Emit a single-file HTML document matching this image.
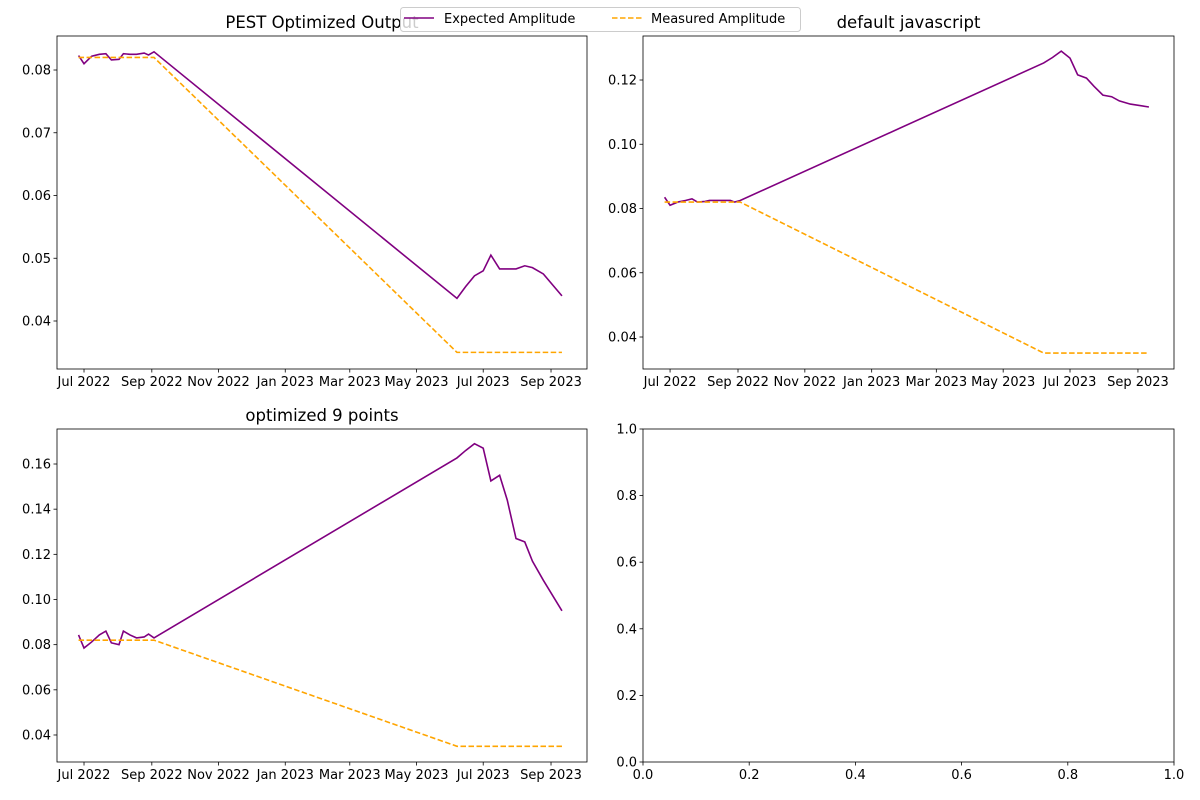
<!DOCTYPE html>
<html><head><meta charset="utf-8"><style>
body{margin:0;background:#fff;}
svg{display:block;font-family:"DejaVu Sans","Liberation Sans",sans-serif;}
</style></head><body>
<svg id="fig" width="1200" height="800" viewBox="0 0 1200 800"></svg>
<script>
// dates (shared by all series)
const dates = ["2022-06-26","2022-07-01","2022-07-08","2022-07-15","2022-07-21","2022-07-26","2022-08-02","2022-08-06","2022-08-12","2022-08-18","2022-08-25","2022-08-29","2022-09-03",
"2023-06-07","2023-06-15","2023-06-23","2023-07-01","2023-07-08","2023-07-16","2023-07-23","2023-07-31","2023-08-08","2023-08-15","2023-08-25","2023-09-11"];
const measured = [0.082,0.082,0.082,0.082,0.082,0.082,0.082,0.082,0.082,0.082,0.082,0.082,0.082,
0.035,0.035,0.035,0.035,0.035,0.035,0.035,0.035,0.035,0.035,0.035,0.035];
const expectedPest = [0.0823,0.081,0.0822,0.0825,0.0826,0.0816,0.0817,0.0826,0.0825,0.0825,0.0827,0.0824,0.0829,
0.0436,0.0455,0.0472,0.048,0.0505,0.0483,0.0483,0.0483,0.0488,0.0485,0.0475,0.044];
const expectedDefault = [0.0835,0.081,0.082,0.0825,0.083,0.082,0.0822,0.0825,0.0825,0.0825,0.0825,0.082,0.0825,
0.1253,0.127,0.129,0.1268,0.1216,0.1206,0.118,0.1153,0.1148,0.1135,0.1125,0.1116];
const expectedNine = [0.0843,0.0785,0.0812,0.0843,0.086,0.0808,0.080,0.086,0.0843,0.083,0.0834,0.0847,0.083,
0.1627,0.166,0.169,0.167,0.1525,0.155,0.144,0.127,0.1255,0.117,0.1085,0.095];
const dateTicks = ["2022-07-01","2022-09-01","2022-11-01","2023-01-01","2023-03-01","2023-05-01","2023-07-01","2023-09-01"];
const dateTickLabels = ["Jul 2022","Sep 2022","Nov 2022","Jan 2023","Mar 2023","May 2023","Jul 2023","Sep 2023"];
const yTicks1 = [0.04,0.05,0.06,0.07,0.08];
const yTicks2 = [0.04,0.06,0.08,0.10,0.12];
const yTicks3 = [0.04,0.06,0.08,0.10,0.12,0.14,0.16];
const unitTicks = [0,0.2,0.4,0.6,0.8,1.0];

const NS="http://www.w3.org/2000/svg";
const svg=document.getElementById('fig');
function mk(tag,attrs,parent){const e=document.createElementNS(NS,tag);for(const k in attrs)e.setAttribute(k,attrs[k]);(parent||svg).appendChild(e);return e;}
const T0=Date.UTC(2022,6,1);
function dayOf(s){const p=s.split('-');return (Date.UTC(+p[0],+p[1]-1,+p[2])-T0)/86400000;}

function panel(name,L,R,Tp,B,xmin,xmax,ymin,ymax,title,isDate,yt,yfmt,series){
  const g=mk('g',{});
  
  
  const sx=v=>L+(v-xmin)/(xmax-xmin)*(R-L);
  const sy=v=>B-(v-ymin)/(ymax-ymin)*(B-Tp);
  series.forEach(s=>{
    const pts=s.vals.map((v,i)=>sx(dayOf(dates[i])).toFixed(2)+','+sy(v).toFixed(2)).join(' ');
    const pl=mk('polyline',{points:pts,fill:'none',stroke:s.color,'stroke-width':1.6,'stroke-dasharray':s.dash||'none'},g);
    
    
  });
  const fr=mk('rect',{x:L,y:Tp,width:R-L,height:B-Tp,fill:'none',stroke:'#000','stroke-width':0.8},g);
  
  
  const xt=isDate?dateTicks.map(dayOf):unitTicks;
  const xl=isDate?dateTickLabels:unitTicks.map(v=>v.toFixed(1));
  xt.forEach((v,i)=>{const x=sx(v);mk('line',{x1:x,x2:x,y1:B,y2:B+3.5,stroke:'#000','stroke-width':0.8},g);
    const t=mk('text',{x:x,y:B+17,'text-anchor':'middle','font-size':13},g);t.textContent=xl[i];
    
    });
  yt.forEach(v=>{const y=sy(v);mk('line',{x1:L-3.5,x2:L,y1:y,y2:y,stroke:'#000','stroke-width':0.8},g);
    const t=mk('text',{x:L-6,y:y+4.5,'text-anchor':'end','font-size':13},g);t.textContent=v.toFixed(yfmt);
    
    });
  if(title){const t=mk('text',{x:(L+R)/2,y:Tp-8,'text-anchor':'middle','font-size':16.5},g);t.textContent=title;
    
    }
}
const xmin=-24.7,xmax=459.9;
const P='#800080',O='#FFA500';
panel('panel-pest',57,587,36,369,xmin,xmax,0.03235,0.08542,'PEST Optimized Output',true,yTicks1,2,
 [{vals:expectedPest,color:P,name:'expected-line'},{vals:measured,color:O,dash:'5.5,2.5',name:'measured-line'}]);
panel('panel-default',643,1174,36,369,xmin,xmax,0.03004,0.1337,'default javascript',true,yTicks2,2,
 [{vals:expectedDefault,color:P,name:'expected-line'},{vals:measured,color:O,dash:'5.5,2.5',name:'measured-line'}]);
panel('panel-nine',57,587,429,762,xmin,xmax,0.02804,0.1755,'optimized 9 points',true,yTicks3,2,
 [{vals:expectedNine,color:P,name:'expected-line'},{vals:measured,color:O,dash:'5.5,2.5',name:'measured-line'}]);
panel('panel-empty',643,1174,429,762,0,1,0,1,'',false,unitTicks,1,[]);

const lg=mk('g',{});


mk('rect',{x:400.5,y:7.5,width:400,height:24,rx:3,fill:'#fff','fill-opacity':0.8,stroke:'#ccc','stroke-width':1},lg);
mk('line',{x1:404,x2:434,y1:18,y2:18,stroke:P,'stroke-width':1.6},lg);
const t1=mk('text',{x:444,y:23,'font-size':13},lg);t1.textContent='Expected Amplitude';


mk('line',{x1:612,x2:642,y1:18,y2:18,stroke:O,'stroke-width':1.6,'stroke-dasharray':'5.5,2.5'},lg);
const t2=mk('text',{x:651,y:23,'font-size':13},lg);t2.textContent='Measured Amplitude';


</script>
</body></html>
